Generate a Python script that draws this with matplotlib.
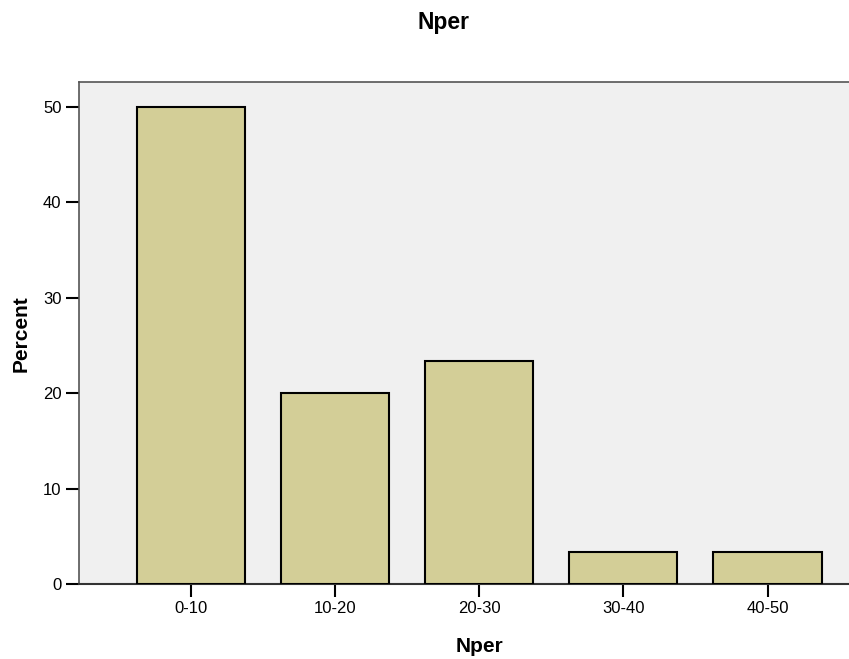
import matplotlib
matplotlib.use("Agg")
import matplotlib.pyplot as plt

categories = ["0-10", "10-20", "20-30", "30-40", "40-50"]
percent = [50.0, 20.0, 23.33, 3.33, 3.33]
yticks = [0, 10, 20, 30, 40, 50]

plt.rcParams['font.family'] = ['Liberation Sans', 'DejaVu Sans']

W, H = 849, 659
fig = plt.figure(figsize=(W/100, H/100), dpi=100)
ax = fig.add_axes([78.5/W, 75/H, 1 - 78.5/W, (584-82)/H])
ax.set_facecolor("#f0f0f0")

x = list(range(len(categories)))
ax.bar(x, percent, width=0.75, color="#d3ce97", edgecolor="black", linewidth=1.5, zorder=3)

ax.set_xlim(-0.78, 4.565)
ax.set_ylim(0, 52.6)
ax.set_xticks(x)
ax.set_xticklabels(categories, fontsize=12)
ax.set_yticks(yticks)
ax.set_yticklabels([str(v) for v in yticks], fontsize=12)
ax.tick_params(axis='both', direction='out', length=9.3, width=1.5, color='black', pad=3)

for s in ['top', 'left']:
    ax.spines[s].set_color('#555555')
    ax.spines[s].set_linewidth(1.2)
ax.spines['right'].set_visible(False)
ax.spines['bottom'].set_color('#333333')
ax.spines['bottom'].set_linewidth(1.5)

fig.text(479.5/W, 1 - 652/H, "Nper", ha='center', va='baseline', fontsize=15, fontweight='bold')
fig.text(21.5/W, 1 - 333.5/H, "Percent", ha='center', va='center', rotation=90, fontsize=15, fontweight='bold')
fig.text(443/W, 1 - 29/H, "Nper", ha='center', va='baseline', fontsize=16.5, fontweight='bold')

fig.savefig("out.png", dpi=100)
